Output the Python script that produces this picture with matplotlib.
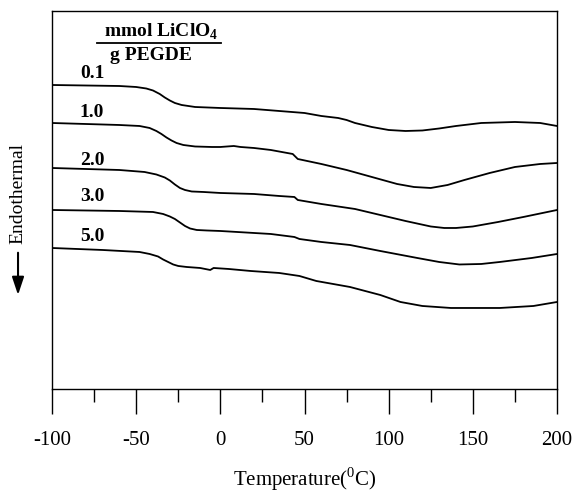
import matplotlib
matplotlib.use("Agg")
import matplotlib.pyplot as plt
from matplotlib.ticker import MultipleLocator

plt.rcParams['font.family'] = ['Liberation Serif', 'DejaVu Serif']
plt.rcParams['mathtext.fontset'] = 'custom'
plt.rcParams['mathtext.rm'] = 'Liberation Serif'
plt.rcParams['mathtext.bf'] = 'Liberation Serif:bold'
plt.rcParams['axes.unicode_minus'] = False

# DSC traces (temperature in C, heat flow in arbitrary units)
t_01 = [-100, -60, -50, -44, -40, -36, -33, -30, -27, -23, -15, 0, 20, 35, 50, 60, 70, 75, 80, 90, 100, 110, 120, 130, 140, 155, 175, 190, 200]
q_01 = [30.4, 30.3, 30.2, 30.05, 29.85, 29.5, 29.15, 28.85, 28.6, 28.4, 28.2, 28.1, 28.0, 27.8, 27.6, 27.3, 27.1, 26.9, 26.6, 26.2, 25.9, 25.8, 25.85, 26.05, 26.3, 26.6, 26.7, 26.6, 26.3]

t_10 = [-100, -60, -48, -42, -38, -35, -32, -29, -26, -22, -15, -5, 0, 8, 12, 20, 30, 43, 46, 60, 75, 90, 105, 115, 125, 135, 145, 160, 175, 190, 200]
q_10 = [26.6, 26.4, 26.3, 26.1, 25.8, 25.5, 25.15, 24.85, 24.6, 24.4, 24.25, 24.2, 24.2, 24.3, 24.2, 24.1, 23.9, 23.5, 23.0, 22.5, 21.9, 21.2, 20.5, 20.2, 20.1, 20.4, 20.9, 21.6, 22.2, 22.5, 22.6]

t_20 = [-100, -60, -45, -38, -33, -30, -27, -24, -21, -17, -10, 0, 20, 35, 44, 46, 60, 80, 95, 110, 125, 133, 140, 150, 165, 180, 200]
q_20 = [22.1, 21.9, 21.7, 21.45, 21.15, 20.85, 20.45, 20.1, 19.9, 19.75, 19.7, 19.6, 19.5, 19.3, 19.2, 18.9, 18.5, 18.0, 17.4, 16.8, 16.25, 16.1, 16.1, 16.25, 16.7, 17.2, 17.9]

t_30 = [-100, -60, -40, -34, -30, -27, -24, -21, -18, -14, -8, 0, 10, 30, 44, 47, 60, 77, 95, 117, 130, 142, 155, 166, 185, 200]
q_30 = [17.9, 17.8, 17.7, 17.5, 17.25, 17.0, 16.65, 16.3, 16.05, 15.9, 15.85, 15.8, 15.7, 15.5, 15.2, 15.0, 14.7, 14.4, 13.8, 13.1, 12.7, 12.45, 12.5, 12.7, 13.1, 13.5]

t_50 = [-100, -70, -48, -42, -37, -34, -31, -28, -25, -20, -12, -6, -4, 5, 18, 35, 47, 57, 77, 95, 107, 120, 137, 150, 166, 186, 200]
q_50 = [14.1, 13.9, 13.7, 13.5, 13.25, 12.95, 12.7, 12.45, 12.3, 12.2, 12.1, 11.9, 12.1, 12.0, 11.8, 11.6, 11.3, 10.8, 10.2, 9.4, 8.7, 8.3, 8.1, 8.1, 8.1, 8.3, 8.7]

temps = [t_01, t_10, t_20, t_30, t_50]
flows = [q_01, q_10, q_20, q_30, q_50]
conc_labels = ['0.1', '1.0', '2.0', '3.0', '5.0']
label_y = [31.5, 27.6, 22.8, 19.2, 15.2]

fig = plt.figure(figsize=(5.74, 4.93), dpi=100)
ax = fig.add_axes([0.0906, 0.211, 0.8798, 0.7667])

for t, q in zip(temps, flows):
    ax.plot(t, q, color='black', lw=1.3)

for lab, y in zip(conc_labels, label_y):
    ax.text(-83.5, y, lab, fontsize=14, fontweight='bold', va='center', ha='left')

# concentration unit as a fraction
ax.text(-35, 35.7, r'mmol LiClO$_\mathbf{4}$', fontsize=14, fontweight='bold', ha='center', va='center')
ax.plot([-73.3, 0.4], [34.6, 34.6], color='black', lw=1.3)
ax.text(-41, 33.3, 'g PEGDE', fontsize=14, fontweight='bold', ha='center', va='center')

ax.set_xlim(-100, 200)
ax.set_ylim(0, 37.8)
ax.xaxis.set_major_locator(MultipleLocator(50))
ax.xaxis.set_minor_locator(MultipleLocator(25))
ax.tick_params(axis='x', which='major', direction='out', length=18, width=1.0, labelsize=15, pad=12.5)
ax.tick_params(axis='x', which='minor', direction='out', length=9.5, width=1.0)
ax.set_yticks([])
for s in ax.spines.values():
    s.set_linewidth(1.0)

ax.set_xlabel(r'Temperature($^0$C)', fontsize=15, labelpad=11)

fig.text(0.0314, 0.6065, 'Endothermal', rotation=90, fontsize=14, ha='center', va='center')
fig.patches.append(matplotlib.patches.FancyArrowPatch(
    (0.0314, 0.493), (0.0314, 0.396), transform=fig.transFigure,
    arrowstyle='-|>,head_length=0.9,head_width=0.3', color='black', lw=1.5,
    mutation_scale=12))

fig.savefig('out.png', dpi=100)
